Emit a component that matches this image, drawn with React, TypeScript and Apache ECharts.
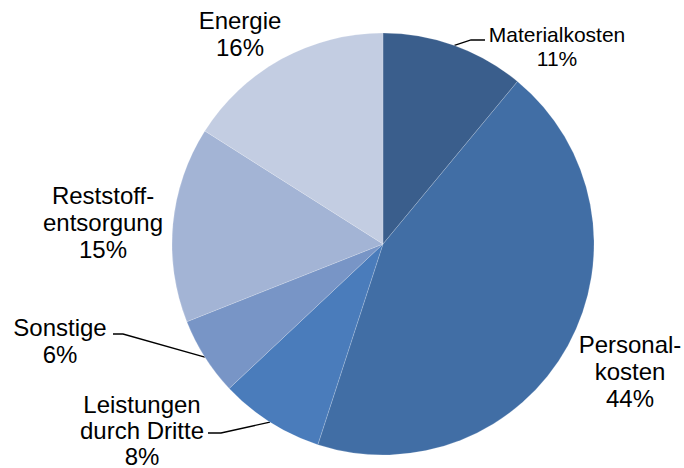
import React, { useEffect, useRef } from "react";
import * as echarts from "echarts";

const categories = [
  "Materialkosten",
  "Personal-\nkosten",
  "Leistungen\ndurch Dritte",
  "Sonstige",
  "Reststoff-\nentsorgung",
  "Energie",
];
const values = [11, 44, 8, 6, 15, 16];
const colors = ["#3A5E8C", "#416EA5", "#4A7CBB", "#7895C6", "#A3B4D5", "#C3CDE2"];

// layout (pixels)
const CX = 383;
const CY = 244;
const R = 211;
const labelCenters = [
  [557, 46],
  [630, 371],
  [142, 430],
  [60, 341],
  [103, 222],
  [240, 34],
];
const labelSizes = [21, 24, 24, 24, 24, 24];
const labelLineHeights = [24, 27, 26, 27, 27, 27];
const elbows: (number[][] | null)[] = [
  [
    [471, 40],
    [485, 40],
  ],
  null,
  [
    [221, 433],
    [208, 433],
  ],
  [
    [123, 334],
    [113, 334],
  ],
  null,
  null,
];

export default function App() {
  const ref = useRef<HTMLDivElement>(null);
  useEffect(() => {
    if (!ref.current) return;
    const chart = echarts.init(ref.current, undefined, { renderer: "svg" });
    const total = values.reduce((a, b) => a + b, 0);
    const midAngles: number[] = [];
    let acc = 0;
    values.forEach((v) => {
      midAngles.push(((acc + v / 2) / total) * Math.PI * 2);
      acc += v;
    });
    chart.setOption({
      animation: false,
      backgroundColor: "#ffffff",
      series: [
        {
          type: "pie",
          center: [CX, CY],
          radius: [0, R],
          startAngle: 90,
          clockwise: true,
          avoidLabelOverlap: false,
          silent: true,
          itemStyle: { borderColor: "rgba(255,255,255,0.35)", borderWidth: 0.5 },
          data: values.map((v, i) => ({
            value: v,
            name: categories[i],
            itemStyle: { color: colors[i] },
            label: {
              show: true,
              position: "outside",
              formatter: `${categories[i]}\n${v}%`,
              fontFamily: "Liberation Sans, Arial, sans-serif",
              fontSize: labelSizes[i],
              lineHeight: labelLineHeights[i],
              color: "#000000",
              align: "center",
            },
            labelLine: {
              show: elbows[i] != null,
              lineStyle: { color: "#000000", width: 1.3 },
            },
          })),
          labelLayout: (params: any) => {
            const i = params.dataIndex;
            const out: any = {
              x: labelCenters[i][0],
              y: labelCenters[i][1],
              align: "center",
              verticalAlign: "middle",
            };
            const e = elbows[i];
            if (e) {
              const a = midAngles[i];
              const sx = CX + R * Math.sin(a);
              const sy = CY - R * Math.cos(a);
              out.labelLinePoints = [[sx, sy], e[0], e[1]];
            }
            return out;
          },
        },
      ],
    });
    return () => chart.dispose();
  }, []);
  return (
    <div
      ref={ref}
      style={{ position: "absolute", left: 0, top: 0, width: 684, height: 468 }}
    />
  );
}
